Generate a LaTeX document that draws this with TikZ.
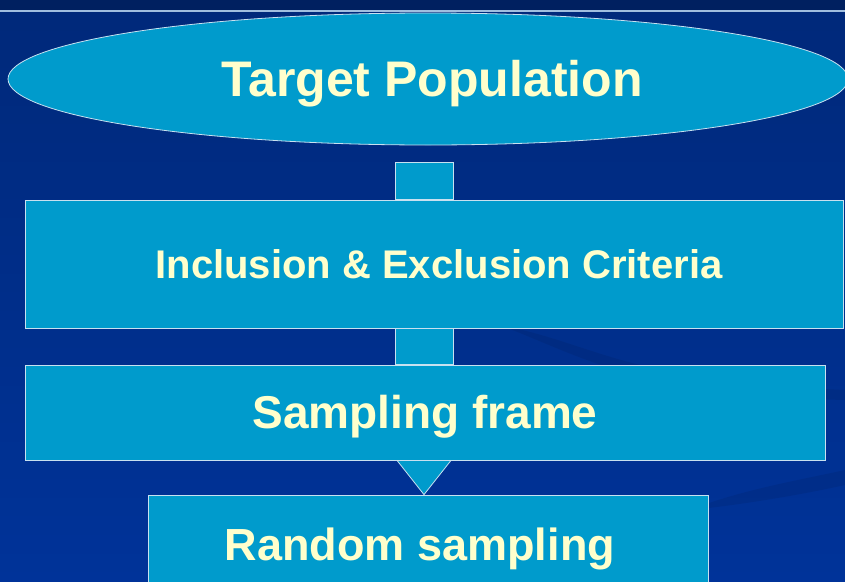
\documentclass[tikz,border=0pt]{standalone}
\usepackage{fontspec}
\setmainfont{Liberation Sans}
\usetikzlibrary{calc,shapes.geometric}
\definecolor{slidebg}{RGB}{0,51,153}
\definecolor{slidetop}{RGB}{0,32,96}
\definecolor{boxblue}{RGB}{0,155,204}
\definecolor{cream}{RGB}{255,255,204}
\definecolor{rim}{RGB}{200,225,240}
\def\sz#1{\fontsize{#1}{#1}\selectfont}
\tikzset{
	stage/.style={draw=rim, line width=0.8pt, fill=boxblue, text=cream, font=\bfseries, inner sep=0pt},
	flow/.style={draw=rim, line width=0.8pt, fill=boxblue},
}

\begin{document}
\begin{tikzpicture}[x=1pt, y=-1pt]
			%%%%% START %%%%%
			
			\clip (0, 0) rectangle (845, 581);
			\shade[top color=slidebg!80!black, bottom color=slidebg] (0, 10) rectangle (845, 581);
			\fill[slidetop] (0, 0) rectangle (845, 10);
			\draw[line width=1.5pt, color=rim!80!slidebg] (0, 11) -- (845, 11);
			
			\fill[black, opacity=0.07] (500, 325) .. controls (600, 345) and (620, 380) .. (845, 390) -- (845, 400) .. controls (640, 395) and (590, 360) .. (500, 325);
			\fill[black, opacity=0.07] (690, 510) .. controls (740, 490) and (800, 480) .. (845, 470) -- (845, 485) .. controls (800, 495) and (740, 505) .. (690, 510);
			
			\coordinate (axis) at (424, 0);
			
			\node[stage, ellipse, minimum width=840, minimum height=132] (target) at (428, 79) {\raisebox{-5pt}[\height][\depth]{\hspace*{8pt}\sz{50}Target Population}};
			\node[stage, minimum width=818, minimum height=128] (incl) at (434, 264) {\hspace*{10pt}\sz{40}Inclusion \& Exclusion Criteria};
			\node[stage, minimum width=800, minimum height=95] (frame) at (425, 412.5) {\raisebox{-4pt}[\height][\depth]{\sz{46}Sampling frame}};
			\node[stage, minimum width=560, minimum height=110, text depth=0pt] (rand) at (428, 550) {\raisebox{11pt}{\sz{45}Random sampling\hspace*{16pt}}};
			
			\draw[flow] ($(target.south -| axis)+(-29, 17)$) rectangle ($(incl.north -| axis)+(29, 0)$);
			\draw[flow] ($(incl.south -| axis)+(-29, 0)$) rectangle ($(frame.north -| axis)+(29, 0)$);
			\draw[flow] ($(frame.south -| axis)+(-27, 0)$) -- ($(frame.south -| axis)+(27, 0)$) -- (rand.north -| axis) -- cycle;
			
			%%%%% END %%%%%
\end{tikzpicture}
\end{document}
